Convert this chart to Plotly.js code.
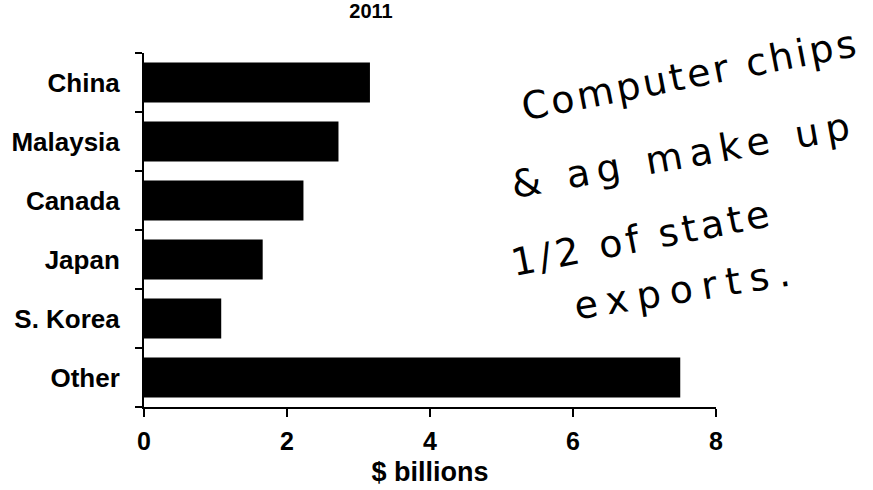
<!DOCTYPE html>
<html>
<head>
<meta charset="utf-8">
<script src="https://cdn.plot.ly/plotly-3.0.1.min.js"></script>
<style>
html,body{margin:0;padding:0;background:#fff;}
#chart{width:873px;height:490px;}
.annotation[data-index="0"] .annotation-text{letter-spacing:3px;}
.annotation[data-index="1"] .annotation-text{letter-spacing:7px;}
.annotation[data-index="2"] .annotation-text{letter-spacing:4px;}
.annotation[data-index="3"] .annotation-text{letter-spacing:9px;}
</style>
</head>
<body>
<div id="chart"></div>
<script>
var categories = ["China", "Malaysia", "Canada", "Japan", "S. Korea", "Other"];
var values = [3.16, 2.72, 2.23, 1.66, 1.08, 7.50];
var xTicks = [0, 2, 4, 6, 8];
var chartTitle = "2011";
var xTitle = "$ billions";
var noteLines = ["Computer chips", "& ag make up", "1/2 of state", "exports."];

var font = "Liberation Sans, Arial, sans-serif";

var trace = {
  type: "bar",
  orientation: "h",
  x: values,
  y: categories,
  marker: {color: "#000000", line: {width: 0}},
  hoverinfo: "none"
};

var notePos = [
  {x: 690, y: 75, angle: -11},
  {x: 684, y: 155, angle: -10},
  {x: 642, y: 238, angle: -11},
  {x: 686, y: 289, angle: -9}
];

var annotations = noteLines.map(function (t, i) {
  return {
    text: t,
    xref: "paper", yref: "paper",
    x: (notePos[i].x - 144) / 572,
    y: 1 - (notePos[i].y - 53) / 354,
    xanchor: "center", yanchor: "middle",
    showarrow: false,
    textangle: notePos[i].angle,
    font: {family: "DejaVu Sans, sans-serif", size: 38, color: "#000"}
  };
});

var layout = {
  width: 873,
  height: 490,
  margin: {l: 144, r: 157, t: 53, b: 83, pad: 0},
  paper_bgcolor: "#fff",
  plot_bgcolor: "#fff",
  showlegend: false,
  bargap: 0.32,
  title: {
    text: "<b>" + chartTitle + "</b>",
    xref: "container", yref: "container",
    x: 371 / 873, y: 1 - 11 / 490,
    xanchor: "center", yanchor: "middle",
    font: {family: font, size: 20, color: "#000"}
  },
  xaxis: {
    range: [0, 8],
    tickvals: xTicks,
    ticktext: xTicks.map(function (v) { return "<b>" + v + "</b>"; }),
    showgrid: false,
    zeroline: false,
    showline: true,
    linecolor: "#000",
    linewidth: 2,
    ticks: "outside",
    ticklen: 8,
    tickwidth: 2,
    tickcolor: "#000",
    ticklabelstandoff: 3,
    tickfont: {family: font, size: 25, color: "#000"},
    fixedrange: true,
    title: {
      text: "<b>" + xTitle + "</b>",
      font: {family: font, size: 27, color: "#000"},
      standoff: 8
    }
  },
  yaxis: {
    type: "category",
    categoryorder: "array",
    categoryarray: categories,
    autorange: "reversed",
    tickson: "boundaries",
    showgrid: false,
    zeroline: false,
    showline: true,
    linecolor: "#000",
    linewidth: 2,
    ticks: "outside",
    ticklen: 7,
    tickwidth: 2,
    tickcolor: "#000",
    ticklabelstandoff: 17,
    tickvals: categories,
    ticktext: categories.map(function (c) { return "<b>" + c + "</b>"; }),
    tickfont: {family: font, size: 26, color: "#000"},
    fixedrange: true
  },
  annotations: annotations
};

Plotly.newPlot("chart", [trace], layout, {displayModeBar: false, staticPlot: true});
</script>
</body>
</html>
